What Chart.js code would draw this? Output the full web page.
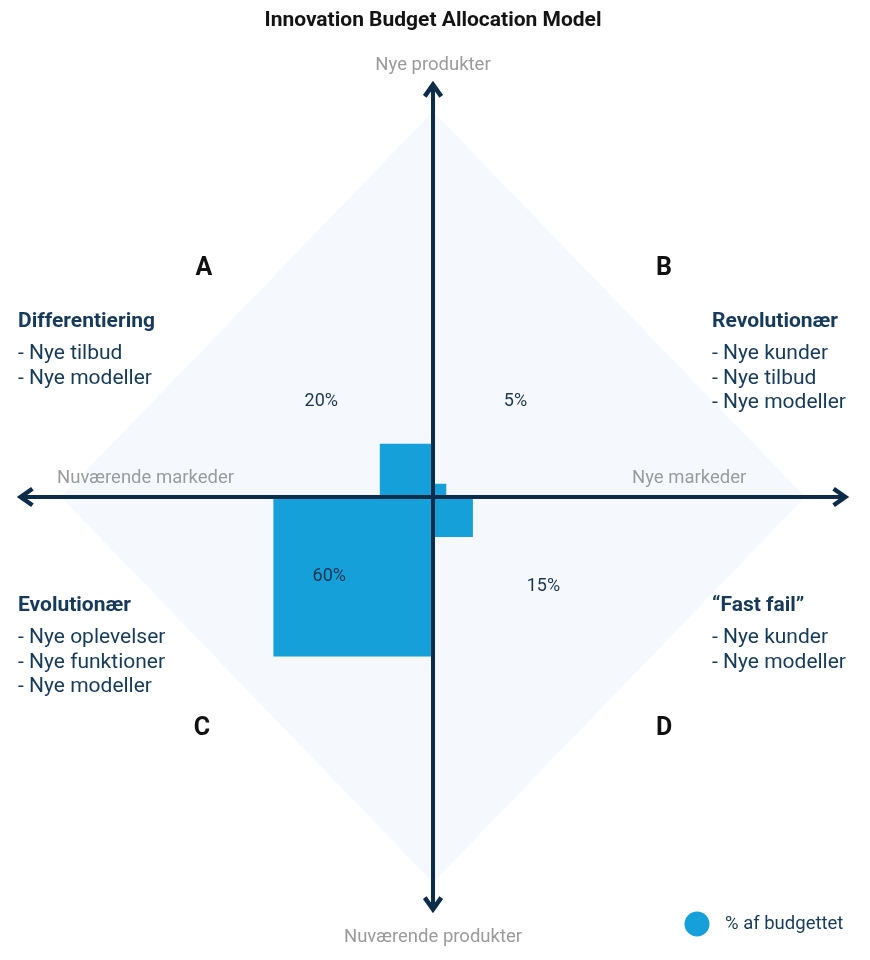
<!DOCTYPE html>
<html>
<head>
<meta charset="utf-8">
<script src="https://cdn.jsdelivr.net/npm/chart.js@4.4.1/dist/chart.umd.min.js"></script>
<style>
html,body{margin:0;padding:0;background:#fff;}
#wrap{width:870px;height:960px;position:relative;}
</style>
</head>
<body>
<div id="wrap"><canvas id="c" width="870" height="960"></canvas></div>
<script>
// ---- data ----
const quadrants = ["A", "B", "C", "D"];
const budgetShare = [20, 5, 60, 15];           // % af budgettet per quadrant
const quadrantTitles = ["Differentiering", "Revolutionær", "Evolutionær", "“Fast fail”"];
const quadrantItems = [
  ["- Nye tilbud", "- Nye modeller"],
  ["- Nye kunder", "- Nye tilbud", "- Nye modeller"],
  ["- Nye oplevelser", "- Nye funktioner", "- Nye modeller"],
  ["- Nye kunder", "- Nye modeller"]
];
const axisLabels = { top: "Nye produkter", bottom: "Nuværende produkter", left: "Nuværende markeder", right: "Nye markeder" };
const chartTitle = "Innovation Budget Allocation Model";
const legendLabel = "% af budgettet";
const diamondExtentX = 140;
const diamondExtentY = 145;
const axisExtent = 155;

// ---- styling / layout ----
const PX = 2.66;             // pixels per unit
const CX = 433, CY = 497;    // origin pixel
const W = 870, H = 960;
const C_SQ = '#16a0da', C_DIAMOND = '#f5f9fe', C_AXIS = '#0c2c4a', C_NAVY = '#163a5a', C_GREY = '#9b9b9b';
const FONT = 'Roboto, "Noto Sans", sans-serif';

// quadrant sign (x,y)
const signs = [[-1, 1], [1, 1], [-1, -1], [1, -1]];

function squarePts(v, s) {
  const sx = s[0], sy = s[1];
  return [{x:0,y:0},{x:sx*v,y:0},{x:sx*v,y:sy*v},{x:0,y:sy*v},{x:0,y:0}];
}

const datasets = [];
datasets.push({
  label: 'diamond', order: 10,
  data: [{x:0,y:diamondExtentY},{x:diamondExtentX,y:0},{x:0,y:-diamondExtentY},{x:-diamondExtentX,y:0},{x:0,y:diamondExtentY}],
  showLine: true, fill: 'shape', backgroundColor: C_DIAMOND, borderWidth: 0, borderColor: 'rgba(0,0,0,0)', pointRadius: 0, tension: 0
});
budgetShare.forEach((v, i) => {
  datasets.push({
    label: quadrants[i], order: 5,
    data: squarePts(v, signs[i]),
    showLine: true, fill: 'shape', backgroundColor: C_SQ, borderWidth: 0, borderColor: 'rgba(0,0,0,0)', pointRadius: 0, tension: 0
  });
});
// axes
const axisStyle = { order: 1, showLine: true, fill: false, borderColor: C_AXIS, borderWidth: 4, pointRadius: 0, tension: 0, borderCapStyle: 'butt', borderJoinStyle: 'miter' };
datasets.push(Object.assign({ label: 'hAxis', data: [{x:-axisExtent+1,y:0},{x:axisExtent-1,y:0}] }, axisStyle));
datasets.push(Object.assign({ label: 'vAxis', data: [{x:0,y:-axisExtent+1},{x:0,y:axisExtent-1}] }, axisStyle));
// arrowheads (chevrons)
const ah = 4.4, aw = 3.1;
const heads = [
  [{x:-axisExtent+ah,y:aw},{x:-axisExtent,y:0},{x:-axisExtent+ah,y:-aw}],
  [{x:axisExtent-ah,y:aw},{x:axisExtent,y:0},{x:axisExtent-ah,y:-aw}],
  [{x:-aw,y:axisExtent-ah},{x:0,y:axisExtent},{x:aw,y:axisExtent-ah}],
  [{x:-aw,y:-axisExtent+ah},{x:0,y:-axisExtent},{x:aw,y:-axisExtent+ah}]
];
heads.forEach((h, i) => datasets.push(Object.assign({ label: 'head' + i, data: h }, axisStyle, { borderWidth: 4.5 })));

const textPlugin = {
  id: 'texts',
  afterDatasetsDraw(chart) {
    const ctx = chart.ctx;
    const xs = chart.scales.x, ys = chart.scales.y;
    ctx.save();
    ctx.textBaseline = 'middle';
    // title
    ctx.fillStyle = '#141414'; ctx.textAlign = 'center';
    ctx.font = 'bold 21px ' + FONT;
    ctx.fillText(chartTitle, CX, 21);
    // axis labels
    ctx.fillStyle = C_GREY; ctx.font = '18.5px ' + FONT;
    ctx.fillText(axisLabels.top, CX, 65);
    ctx.fillText(axisLabels.bottom, CX, 937);
    ctx.textAlign = 'left';
    ctx.fillText(axisLabels.left, 57, 478);
    ctx.fillText(axisLabels.right, 632, 478);
    // letters
    const letterPos = [[204, 269], [664, 269], [202, 729], [664, 729]];
    ctx.fillStyle = '#111'; ctx.textAlign = 'center'; ctx.font = 'bold 25px ' + FONT;
    quadrants.forEach((q, i) => ctx.fillText(q, letterPos[i][0], letterPos[i][1]));
    // quadrant descriptions
    const descPos = [[18, 322], [712, 322], [18, 606], [712, 606]];
    ctx.textAlign = 'left';
    quadrantTitles.forEach((t, i) => {
      const [x, y] = descPos[i];
      ctx.fillStyle = C_NAVY; ctx.font = 'bold 21px ' + FONT;
      ctx.fillText(t, x, y);
      ctx.font = '21px ' + FONT;
      quadrantItems[i].forEach((it, j) => ctx.fillText(it, x, y + 32 + j * 24.3));
    });
    // percentage labels (anchored in data space)
    const pctPos = [[-42, 36], [31, 36], [-39, -30], [41.5, -33.5]];
    ctx.fillStyle = '#1d3550'; ctx.textAlign = 'center'; ctx.font = '18px ' + FONT;
    budgetShare.forEach((v, i) => ctx.fillText(v + '%', xs.getPixelForValue(pctPos[i][0]), ys.getPixelForValue(pctPos[i][1])));
    // legend
    ctx.fillStyle = C_SQ;
    ctx.beginPath(); ctx.arc(697, 924, 12.5, 0, Math.PI * 2); ctx.fill();
    ctx.fillStyle = C_NAVY; ctx.textAlign = 'left'; ctx.font = '18.5px ' + FONT;
    ctx.fillText(legendLabel, 725, 924);
    ctx.restore();
  }
};

new Chart(document.getElementById('c'), {
  type: 'scatter',
  data: { datasets },
  options: {
    responsive: false,
    animation: false,
    layout: { padding: 0 },
    plugins: { legend: { display: false }, title: { display: false }, tooltip: { enabled: false } },
    scales: {
      x: { type: 'linear', display: false, min: -CX / PX, max: (W - CX) / PX },
      y: { type: 'linear', display: false, min: -(H - CY) / PX, max: CY / PX }
    }
  },
  plugins: [textPlugin]
});
</script>
</body>
</html>
